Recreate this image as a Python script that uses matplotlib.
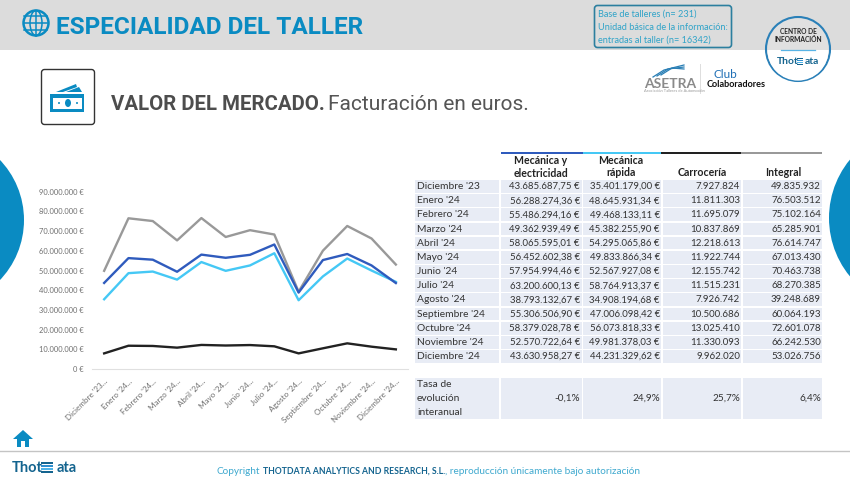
import matplotlib
matplotlib.use("Agg")
import matplotlib.pyplot as plt
from matplotlib.patches import Rectangle, Circle, FancyBboxPatch, Polygon, Ellipse, Wedge

months = ["Diciembre '23", "Enero '24", "Febrero '24", "Marzo '24", "Abril '24", "Mayo '24", "Junio '24",
          "Julio '24", "Agosto '24", "Septiembre '24", "Octubre '24", "Noviembre '24", "Diciembre '24"]
mecanica = [43685687.75, 56288274.36, 55486294.16, 49362939.49, 58065595.01, 56452602.38, 57954994.46,
            63200600.13, 38793132.67, 55306506.90, 58379028.78, 52570722.64, 43630958.27]
rapida = [35401179.00, 48645931.34, 49468133.11, 45382255.90, 54295065.86, 49833866.34, 52567927.08,
          58764913.37, 34908194.68, 47006098.42, 56073818.33, 49981378.03, 44231329.62]
carroceria = [7927824, 11811303, 11695079, 10837869, 12218613, 11922744, 12155742,
              11515231, 7926742, 10500686, 13025410, 11330093, 9962020]
integral = [49835932, 76503512, 75102164, 65285901, 76614747, 67013430, 70463738,
            68270385, 39248689, 60064193, 72601078, 66242530, 53026756]
tasa = ["-0,1%", "24,9%", "25,7%", "6,4%"]
headers = ["Mecánica y\nelectricidad", "Mecánica\nrápida", "Carrocería", "Integral"]
colors = ["#2f5bbd", "#45c8f5", "#222222", "#999999"]

BLUE = "#0a8bc2"
GRAY = "#dcdcdc"
DARK = "#14648f"


def fmt_num(v, decimals=False):
    if decimals:
        return f"{v:,.2f} €".replace(",", "#").replace(".", ",").replace("#", ".")
    return f"{v:,.0f}".replace(",", ".")


def thot_logo(axis, x_thot, x_stripes, w_stripes, x_ata, y, size, h, zorder=4):
    axis.text(x_thot, y, "Thot", fontsize=size, fontweight="bold", color=DARK, va="center", zorder=zorder)
    axis.text(x_ata, y, "ata", fontsize=size, fontweight="bold", color=DARK, va="center", zorder=zorder)
    for k, c in enumerate(["#14648f", "#2f8fd0", "#4fb4e8", "#14648f"]):
        axis.add_patch(Rectangle((x_stripes, y - h / 2 + k * h / 4), w_stripes, h / 4 * 0.7, color=c, lw=0, zorder=zorder))


fig = plt.figure(figsize=(8.5, 5), dpi=100)
plt.rcParams["font.family"] = ["Lato", "DejaVu Sans"]

# background layer, in pixels
bg = fig.add_axes([0, 0, 1, 1])
bg.set_xlim(0, 850)
bg.set_ylim(500, 0)
bg.axis("off")

bg.add_patch(Rectangle((0, 0), 850, 50, color=GRAY, lw=0))
bg.add_patch(Circle((-63, 220), 87, color=BLUE, lw=0))
bg.add_patch(Circle((921, 218), 92, color=BLUE, lw=0))
bg.plot([0, 850], [451, 451], color="#c4c4c4", lw=1)

# globe
bg.add_patch(Circle((36, 23), 12.5, fc="none", ec=BLUE, lw=1.8))
bg.add_patch(Ellipse((36, 23), 12, 25, fc="none", ec=BLUE, lw=1.1))
for yy in [16, 23, 30]:
    bg.plot([24.5, 47.5], [yy, yy], color=BLUE, lw=1.1)
bg.plot([36, 36], [10.5, 35.5], color=BLUE, lw=1.1)

bg.text(56, 27, "ESPECIALIDAD DEL TALLER", color=BLUE, fontsize=17.6, fontweight="bold",
        family="Roboto", va="center")

# base info box
bg.add_patch(FancyBboxPatch((594.5, 5.5), 137, 42, boxstyle="round,pad=0,rounding_size=3",
                            fc=GRAY, ec="#2c7f9f", lw=1.2))
for i, line in enumerate(["Base de talleres (n= 231)", "Unidad básica de la información:", "entradas al taller (n= 16342)"]):
    bg.text(598, 14.5 + i * 12.8, line, color="#2fa3c8", fontsize=6.6, va="center")

# centro de informacion badge
bg.add_patch(Circle((798, 49), 32, fc="#e0e0e0", ec="#2a80b8", lw=1.5, zorder=3))
bg.add_patch(Wedge((798, 50), 30.6, 0, 180, fc="white", lw=0, zorder=3.1))
bg.plot([781, 815], [50, 50], color="#58b4e6", lw=0.9, zorder=3.2)
bg.text(798, 32, "CENTRO DE", fontsize=4.8, fontweight="bold", color="#222222", ha="center", va="center", zorder=4)
bg.text(798, 40, "INFORMACIÓN", fontsize=4.8, fontweight="bold", color="#222222", ha="center", va="center", zorder=4)
thot_logo(bg, 777, 797, 6.5, 805, 62, 7.4, 8)

# money icon
bg.add_patch(FancyBboxPatch((41.5, 69.5), 53, 55, boxstyle="round,pad=0,rounding_size=3",
                            fc="white", ec="#333333", lw=1))
bg.add_patch(Rectangle((50.5, 94), 34, 18, color=BLUE, lw=0))
bg.add_patch(Rectangle((53, 97.5), 29, 11, color="white", lw=0))
bg.add_patch(Ellipse((68, 103), 6, 8, color=BLUE, lw=0))
bg.add_patch(Circle((59, 103), 1, color=BLUE, lw=0))
bg.add_patch(Circle((77, 103), 1, color=BLUE, lw=0))
bg.add_patch(Polygon([(56, 92), (76, 84), (77, 87), (63, 92)], color=BLUE, lw=0))
bg.add_patch(Polygon([(66, 92), (79, 87), (82, 92)], color=BLUE, lw=0))

bg.text(111, 105, "VALOR DEL MERCADO.", fontsize=14.7, fontweight="bold", color="#4d4d4d",
        family="Roboto", va="center")
bg.text(328, 105, "Facturación en euros.", fontsize=15, color="#555555", family="Roboto", va="center")

# logos
bg.text(644, 83.5, "ASETRA", fontsize=10, fontweight="bold", color="#8a8a8a", va="center")
bg.text(644, 91.5, "Asociación Talleres de Automoción", fontsize=2.9, color="#999999", va="center")
for k in range(3):
    bg.plot([653 + k * 4, 664 + k * 4, 684], [77 - k, 70 - k, 65 + k * 2], color="#2a7fb5", lw=0.9)
bg.plot([700, 700], [64, 93], color="#dddddd", lw=0.7)
bg.text(714, 74, "Club", fontsize=8.5, color="#1f6fb5", va="center")
bg.text(707, 84.5, "Colaboradores", fontsize=6.6, fontweight="bold", color="#111111", va="center")

# table
col_x = [415, 501, 583, 663, 743]
col_r = [499, 582, 661, 741, 822]
row_y = [180 + i * 14.17 for i in range(13)]
for i, name in enumerate(months):
    y0 = row_y[i]
    for x0, x1 in zip(col_x, col_r):
        bg.add_patch(Rectangle((x0, y0), x1 - x0, 12.8, color="#e8ecf5", lw=0))
    yc = y0 + 6.6
    bg.text(417, yc, name, fontsize=7.4, color="#333333", va="center")
    bg.text(580, yc, fmt_num(mecanica[i], True), fontsize=6.9, color="#333333", va="center", ha="right")
    bg.text(660, yc, fmt_num(rapida[i], True), fontsize=6.9, color="#333333", va="center", ha="right")
    bg.text(740, yc, fmt_num(carroceria[i]), fontsize=7, color="#333333", va="center", ha="right")
    bg.text(821, yc, fmt_num(integral[i]), fontsize=7, color="#333333", va="center", ha="right")

for x0, x1 in zip(col_x, col_r):
    bg.add_patch(Rectangle((x0, 378), x1 - x0, 41, color="#e8ecf5", lw=0))
for i, word in enumerate(["Tasa de", "evolución", "interanual"]):
    bg.text(417, 384.5 + i * 14, word, fontsize=7.4, color="#333333", va="center")
for val, xr in zip(tasa, [580, 660, 740, 821]):
    bg.text(xr, 398.5, val, fontsize=7.2, color="#333333", va="center", ha="right")

# header of table
head_x = [501, 583, 661, 741]
head_r = [583, 661, 741, 822]
for x0, x1, c in zip(head_x, head_r, colors):
    bg.add_patch(Rectangle((x0, 151.5), x1 - x0, 2.4, color=c, lw=0))
for h, xc, yc in zip(headers, [541, 621, 702, 783], [167, 166.5, 172, 172]):
    bg.text(xc, yc, h, fontsize=7.6, fontweight="bold", color="#222222", ha="center", va="center", linespacing=1.15)

# home icon
bg.add_patch(Polygon([(13, 439), (23, 430), (33, 439), (29, 439), (29, 447), (17, 447), (17, 439)], color=BLUE, lw=0))
bg.add_patch(Rectangle((21, 441), 4, 6, color="white", lw=0))

# footer
thot_logo(bg, 12, 41, 12, 57, 468, 10.5, 12)
bg.text(217, 471, "Copyright", fontsize=7.2, color="#3fa9cf", va="center")
bg.text(263, 471, "THOTDATA ANALYTICS AND RESEARCH, S.L.", fontsize=6.2, fontweight="bold", color=DARK, va="center")
bg.text(445, 471, ", reproducción únicamente bajo autorización", fontsize=7.2, color="#3fa9cf", va="center")

# line chart: y=0 at px 369, 90M at px 191.7
ax = fig.add_axes([92 / 850, 1 - 369 / 500, 316 / 850, 177.3 / 500])
ax.patch.set_alpha(0)
x = list(range(len(months)))
ax.plot(x, integral, color=colors[3], lw=1.7)
ax.plot(x, carroceria, color=colors[2], lw=1.7)
ax.plot(x, rapida, color=colors[1], lw=1.7)
ax.plot(x, mecanica, color=colors[0], lw=1.7)
ax.set_ylim(0, 90000000)
ax.set_xlim(-0.5, 12.5)
ax.set_yticks(range(0, 90000001, 10000000))
ax.set_yticklabels([f"{v:,}".replace(",", ".") + " €" for v in range(0, 90000001, 10000000)], fontsize=5.4)
ax.set_xticks(x)
ax.set_xticklabels([m + "..." for m in months], rotation=45, ha="right", rotation_mode="anchor", fontsize=5.8)
ax.tick_params(length=0, labelcolor="#6e6e6e", pad=6)
for s in ["top", "right", "left"]:
    ax.spines[s].set_visible(False)
ax.spines["bottom"].set_color("#e0e0e0")

fig.savefig("out.png", dpi=100)
